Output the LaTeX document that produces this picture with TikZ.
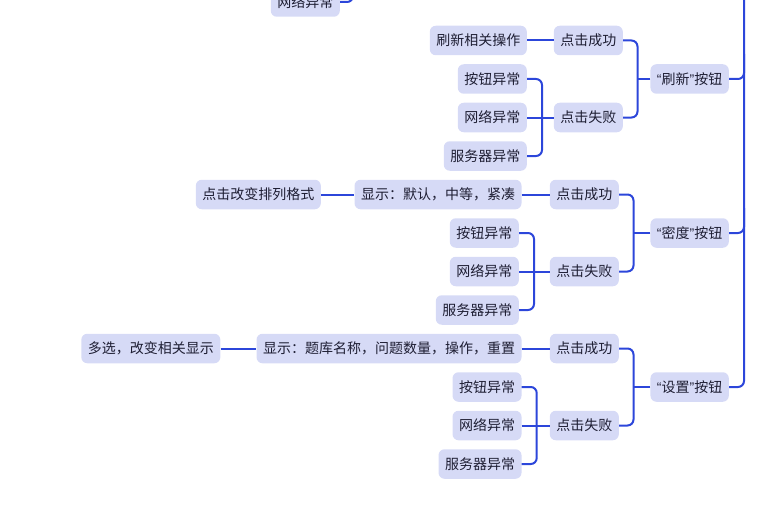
\documentclass[tikz,border=0pt]{standalone}
\usepackage{fontspec}
\setmainfont{Noto Sans CJK SC}
\newfontfamily\quotefont{Liberation Sans}
\usetikzlibrary{calc}
\definecolor{topicfill}{HTML}{D6DAF6}
\definecolor{linkblue}{HTML}{2C46DA}
\definecolor{ink}{HTML}{1E1E33}
\newcommand{\qt}[1]{{\quotefont “}#1{\quotefont ”}}

\begin{document}
\begin{tikzpicture}[x=1pt,y=-1pt,
  topic/.style={fill=topicfill,text=ink,rounded corners=6pt,anchor=east,
    minimum height=29.5pt,inner xsep=6.5pt,inner ysep=0pt,font=\fontsize{14}{16}\selectfont},
  link/.style={draw=linkblue,line width=2pt,rounded corners=6pt}]
\useasboundingbox (0,0) rectangle (767,516);
\clip (0,0) rectangle (767,516);
% trunk, the parent sits above the picture
\draw[link] (744,-10) |- (729,387);
\node[topic] (top-net) at (340,2) {网络异常};
\draw[link] (top-net.east) -- ++(13,0) -- ++(0,-25);
\foreach \g/\y/\b/\c/\k in {r/40.5/刷新/623/527,d/194.5/密度/619/519,s/348.5/设置/619/521.7}{
  \node[topic] (\g-btn) at (729,\y+38.5) {\qt{\b}按钮};
  \node[topic] (\g-ok) at (\c,\y) {点击成功};
  \node[topic] (\g-fail) at (\c,\y+77) {点击失败};
  \node[topic] (\g-k1) at (\k,\y+38.5) {按钮异常};
  \node[topic] (\g-k2) at (\k,\y+77) {网络异常};
  \node[topic] (\g-k3) at (\k,\y+115.5) {服务器异常};
  \coordinate (\g-bx) at (\c+14.5,\y+38.5);
  \draw[link] (\g-ok.east) -| (\g-bx) |- (\g-fail.east);
  \draw[link] (\g-btn.west) -- (\g-bx);
  \draw[link] (\g-k1.east) -- ++(15,0) |- (\g-k3.east);
  \draw[link] (\g-k2.east) -- (\g-fail.west);
}
\foreach \g in {r,d} \draw[link] (\g-btn.east) -| ($(\g-btn.east)+(15,-25)$);
% what a successful click leads to
\node[topic] (r-do) at (527,40.5) {刷新相关操作};
\draw[link] (r-do.east) -- (r-ok.west);
\node[topic] (d-show) at (521.7,194.5) {显示：默认，中等，紧凑};
\node[topic] (d-fmt) at (321,194.5) {点击改变排列格式};
\draw[link] (d-show.east) -- (d-ok.west);
\draw[link] (d-fmt.east) -- (d-show.west);
\node[topic] (s-show) at (521.7,348.5) {显示：题库名称，问题数量，操作，重置};
\node[topic] (s-multi) at (220.5,348.5) {多选，改变相关显示};
\draw[link] (s-show.east) -- (s-ok.west);
\draw[link] (s-multi.east) -- (s-show.west);
\end{tikzpicture}
\end{document}
